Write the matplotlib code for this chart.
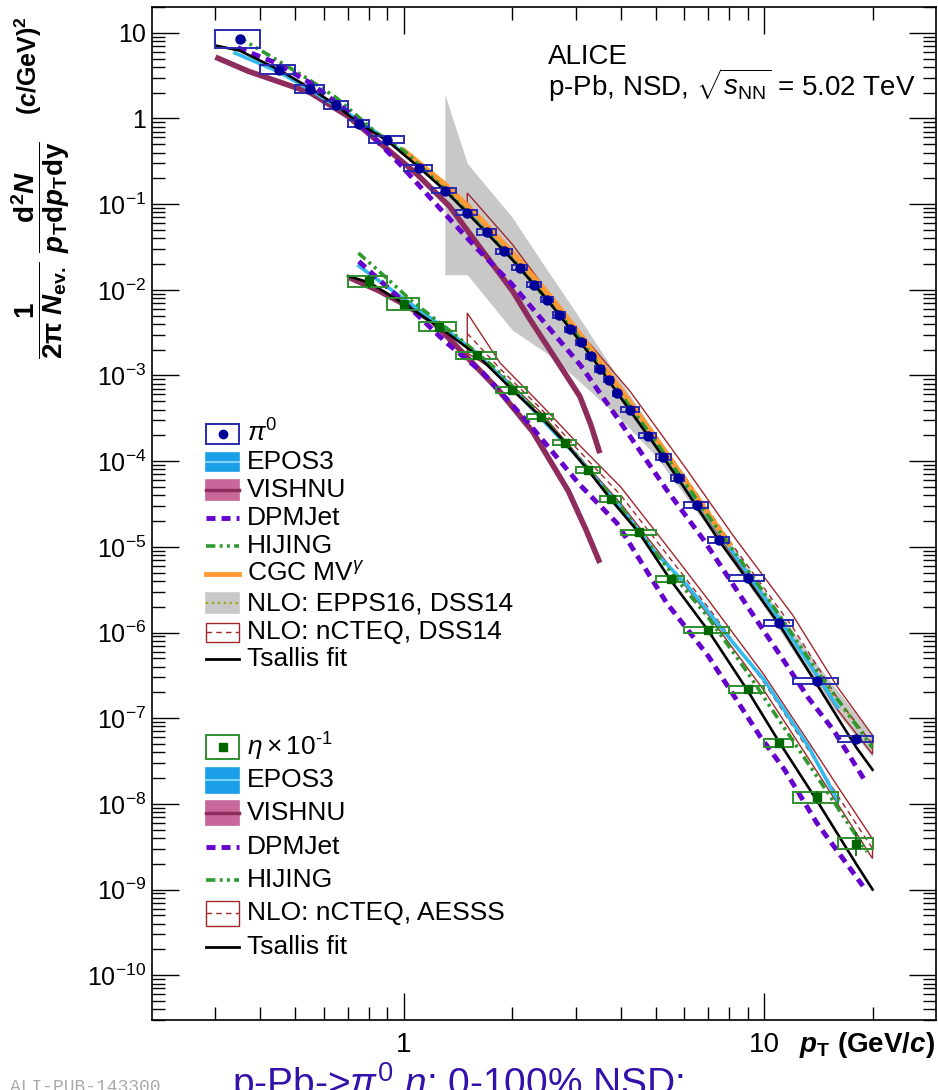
import matplotlib.pyplot as plt
import numpy as np
from matplotlib.patches import Rectangle
from matplotlib.lines import Line2D
from matplotlib.ticker import FixedLocator, FuncFormatter, NullFormatter

plt.rcParams['font.family'] = 'Liberation Sans'
plt.rcParams['mathtext.fontset'] = 'custom'
plt.rcParams['mathtext.rm'] = 'Liberation Sans'
plt.rcParams['mathtext.it'] = 'Liberation Sans:italic'
plt.rcParams['mathtext.bf'] = 'Liberation Sans:bold'
plt.rcParams['mathtext.bfit'] = 'Liberation Sans:bold:italic'

# ---- measured spectra (pi0 and eta x 0.1) ----
pi0_edges = [0.3, 0.4, 0.5, 0.6, 0.7, 0.8, 1.0, 1.2, 1.4, 1.6, 1.8, 2.0, 2.2, 2.4, 2.6, 2.8,
             3.0, 3.2, 3.4, 3.6, 3.8, 4.0, 4.5, 5.0, 5.5, 6.0, 7.0, 8.0, 10.0, 12.0, 16.0, 20.0]
pi0_y = [8.4, 3.70, 2.22, 1.44, 0.865, 0.567, 0.265, 0.144, 0.0789, 0.0473, 0.0281, 0.0180,
         0.01148, 0.00766, 0.00508, 0.00348, 0.00245, 0.00167, 0.00119, 0.000891, 0.000622,
         0.000398, 0.000199, 0.0001114, 6.33e-5, 3.08e-5, 1.19e-5, 4.30e-6, 1.30e-6, 2.74e-7, 5.70e-8]
pi0_sys = [0.27, 0.13, 0.12, 0.11, 0.10, 0.09, 0.08, 0.075, 0.07, 0.07, 0.07, 0.07, 0.07, 0.07,
           0.07, 0.07, 0.07, 0.07, 0.07, 0.07, 0.07, 0.075, 0.075, 0.075, 0.08, 0.08, 0.08, 0.08,
           0.08, 0.08, 0.09]
pi0_stat = [0.01] * 28 + [0.02, 0.03, 0.06]

eta_edges = [0.7, 0.9, 1.1, 1.4, 1.8, 2.2, 2.6, 3.0, 3.5, 4.0, 5.0, 6.0, 8.0, 10.0, 12.0, 16.0, 20.0]
eta_y = [0.01253, 0.00689, 0.00373, 0.00173, 0.000681, 0.000332, 0.000165, 7.9e-5, 3.63e-5,
         1.47e-5, 4.19e-6, 1.07e-6, 2.17e-7, 5.16e-8, 1.19e-8, 3.44e-9]
eta_sys = [0.15, 0.18, 0.13, 0.10, 0.09, 0.08, 0.08, 0.08, 0.08, 0.08, 0.09, 0.09, 0.10, 0.12,
           0.16, 0.17]
eta_stat = [0.2, 0.1, 0.03, 0.02, 0.02, 0.02, 0.02, 0.02, 0.02, 0.03, 0.03, 0.04, 0.06, 0.08,
            0.2, 0.38]

# ---- pi0 model curves ----
tsallis_pi0_x = [0.3, 0.35, 0.45, 0.55, 0.65, 0.75, 0.9, 1.1, 1.3, 1.5, 1.7, 2.0, 2.5, 3.0, 3.5,
                 4.0, 5.0, 6.0, 7.5, 9.0, 11, 14, 18, 20]
tsallis_pi0_y = [7.1, 6.2, 3.7, 2.25, 1.42, 0.88, 0.55, 0.27, 0.145, 0.079, 0.046, 0.0225, 0.0077,
                 0.0029, 0.00122, 0.00055, 0.000149, 4.9e-5, 1.18e-5, 4.1e-6, 1.25e-6, 2.5e-7,
                 4.6e-8, 2.5e-8]
epos_pi0_x = [0.34, 0.45, 0.55, 0.7, 0.9, 1.1, 1.5, 2.0, 3.0, 4.0, 5.0, 7.0, 10, 14, 16]
epos_pi0_y = [5.8, 3.5, 2.15, 1.15, 0.56, 0.28, 0.083, 0.024, 0.0031, 0.0006, 0.00017, 2.2e-5,
              2.6e-6, 3.2e-7, 1.35e-7]
vishnu_pi0_x = [0.3, 0.37, 0.55, 0.7, 1.08, 1.34, 1.62, 2.01, 2.24, 2.54, 3.08, 3.3, 3.5]
vishnu_pi0_y = [5.2, 3.56, 2.0, 1.06, 0.23, 0.094, 0.032, 0.0095, 0.0045, 0.002, 0.00057,
                0.00027, 0.000124]
dpmjet_pi0_x = [0.346, 0.44, 0.55, 0.7, 0.97, 1.22, 1.6, 2.0, 2.5, 3.1, 4.0, 5.37, 6.8, 9.0,
                11.3, 13.3, 15.6, 19]
dpmjet_pi0_y = [6.7, 4.47, 2.6, 1.2, 0.30, 0.103, 0.030, 0.0115, 0.0038, 0.0013, 0.00028,
                4.6e-5, 1.2e-5, 2.0e-6, 4.8e-7, 1.7e-7, 7.2e-8, 1.9e-8]
hijing_pi0_x = [0.346, 0.45, 0.545, 0.65, 0.84, 1.0, 1.3, 2.0, 3.0, 5.0, 7.0, 10, 14, 20]
hijing_pi0_y = [9.0, 4.66, 2.85, 1.74, 0.68, 0.42, 0.15, 0.023, 0.0031, 1.7e-4, 2.3e-5, 2.9e-6,
                3.6e-7, 4.5e-8]
cgc_x = [1.0, 1.3, 1.6, 2.0, 2.5, 3.0, 4.0, 5.0, 6.0, 7.0, 8.0]
cgc_y = [0.42, 0.17, 0.073, 0.027, 0.0092, 0.0035, 6.8e-4, 1.85e-4, 6.2e-5, 2.4e-5, 1.08e-5]
epps_x = [1.3, 1.5, 2.0, 2.5, 3.0, 4.0, 5.0, 7.0, 10, 14, 20]
epps_hi = [1.9, 0.30, 0.07, 0.017, 0.0055, 8.5e-4, 2.1e-4, 2.6e-5, 3.0e-6, 4.3e-7, 6.3e-8]
epps_lo = [0.015, 0.015, 0.0034, 0.0018, 9.3e-4, 3.1e-4, 1.15e-4, 1.7e-5, 2.0e-6, 2.3e-7, 3.5e-8]
epps_mid = [0.17, 0.085, 0.024, 0.0085, 0.0032, 6.2e-4, 1.65e-4, 2.2e-5, 2.6e-6, 3.3e-7, 5.0e-8]
ncteq_pi0_x = [1.5, 2.0, 2.77, 4.25, 6.0, 8.24, 12, 16, 20]
ncteq_pi0_hi = [0.135, 0.034, 0.0054, 6.5e-4, 8.8e-5, 1.32e-5, 1.6e-6, 2.3e-7, 6.3e-8]
ncteq_pi0_lo = [0.08, 0.022, 0.0048, 4.2e-4, 5.3e-5, 7.5e-6, 8.5e-7, 1.25e-7, 3.8e-8]
ncteq_pi0_mid = [0.104, 0.028, 0.0051, 5.2e-4, 6.8e-5, 1.0e-5, 1.15e-6, 1.7e-7, 4.9e-8]

# ---- eta model curves ----
tsallis_eta_x = [0.7, 0.8, 1.0, 1.25, 1.6, 2.0, 2.4, 2.8, 3.25, 3.75, 4.5, 5.5, 7, 9, 11, 14,
                 18, 20]
tsallis_eta_y = [0.0145, 0.0122, 0.0069, 0.0037, 0.00172, 0.00068, 0.00033, 0.000165, 7.8e-5,
                 3.6e-5, 1.45e-5, 4.1e-6, 1.05e-6, 2.1e-7, 5.3e-8, 1.1e-8, 2.0e-9, 1.0e-9]
epos_eta_x = [0.75, 1.0, 1.25, 1.6, 2.0, 3.0, 4.0, 5.0, 6.1, 8.2, 10, 13.3, 16]
epos_eta_y = [0.019, 0.0078, 0.0040, 0.0018, 0.00072, 0.000118, 2.9e-5, 8.5e-6, 3.6e-6, 7.6e-7,
              2.8e-7, 4.6e-8, 1.1e-8]
vishnu_eta_x = [0.7, 0.85, 1.0, 1.2, 1.46, 1.83, 2.28, 2.86, 3.2, 3.5]
vishnu_eta_y = [0.0141, 0.0098, 0.0068, 0.0043, 0.00183, 6.8e-4, 2.2e-4, 4.5e-5, 1.6e-5, 6.5e-6]
dpmjet_eta_x = [0.75, 1.0, 1.3, 1.66, 2.2, 3.08, 3.9, 5.37, 7.0, 9.78, 11.4, 14, 18.8]
dpmjet_eta_y = [0.0215, 0.0072, 0.0025, 0.00107, 2.9e-4, 5.3e-5, 1.9e-5, 2.2e-6, 5.3e-7, 6e-8,
                2.5e-8, 6e-9, 1.1e-9]
hijing_eta_x = [0.748, 0.9, 1.04, 1.4, 1.8, 2.4, 3.0, 4.0, 5.5, 7.0, 9.0, 11, 13.8, 19.3]
hijing_eta_y = [0.0269, 0.0135, 0.0077, 0.0029, 0.0012, 3.4e-4, 1.2e-4, 2.9e-5, 5.1e-6, 1.5e-6,
                3.4e-7, 9.5e-8, 2.3e-8, 2.75e-9]
ncteq_eta_x = [1.5, 1.85, 2.4, 3.0, 4.0, 5.5, 7.0, 10, 13.4, 16, 20]
ncteq_eta_hi = [0.00536, 1.4e-3, 4.6e-4, 1.7e-4, 5.0e-5, 9.0e-6, 2.4e-6, 3.2e-7, 5.0e-8, 1.6e-8,
                3.9e-9]
ncteq_eta_lo = [0.00183, 1.05e-3, 3.7e-4, 1.25e-4, 3.2e-5, 5.8e-6, 1.6e-6, 2.1e-7, 3.2e-8,
                1.0e-8, 2.3e-9]
ncteq_eta_mid = [0.0031, 1.2e-3, 4.1e-4, 1.45e-4, 4.0e-5, 7.2e-6, 1.95e-6, 2.6e-7, 4.0e-8,
                 1.25e-8, 3.0e-9]

# colours
c_pi0_box, c_pi0 = '#2b2bb0', '#000099'
c_eta_box, c_eta = '#2f8f2f', '#006600'
c_epos, c_epos_band, c_epos_mid = '#33bbee', '#1a9fe8', '#7fd3ff'
c_vish, c_vish_band = '#8e2c5e', '#c8679a'
c_dpm = '#6600cc'
c_hij = '#2e9a2e'
c_cgc = '#ff9933'
c_grey, c_olive = '#c8c8c8', '#a3a300'
c_brown = '#a0282d'
hij_dash = [2.6, 1.2, 0.8, 1.2, 0.8, 1.2]
dpm_dash = [1.85, 1.25]

W, H = 938, 1090
fig = plt.figure(figsize=(W / 100, H / 100), dpi=100)
ax = fig.add_axes([152 / W, 1 - 1020 / H, (936 - 152) / W, (1020 - 7) / H])
ax.set_xscale('log')
ax.set_yscale('log')

# NLO EPPS16 band
ax.fill_between(epps_x, epps_lo, epps_hi, color=c_grey, lw=0, zorder=1)
ax.plot(epps_x, epps_mid, color=c_olive, lw=1.6, ls=':', zorder=2)

# nCTEQ bands (outlined)
for bx, lo, hi, mid in [(ncteq_pi0_x, ncteq_pi0_lo, ncteq_pi0_hi, ncteq_pi0_mid),
                        (ncteq_eta_x, ncteq_eta_lo, ncteq_eta_hi, ncteq_eta_mid)]:
    ax.fill(list(bx) + list(bx[::-1]), list(lo) + list(hi[::-1]), facecolor='none',
            edgecolor=c_brown, lw=1.0, zorder=3)
    ax.plot(bx, mid, color=c_brown, lw=1.0, ls=(0, (4, 3)), zorder=3)

ax.plot(vishnu_pi0_x, vishnu_pi0_y, color=c_vish, lw=4, zorder=3, solid_capstyle='butt')
ax.plot(vishnu_eta_x, vishnu_eta_y, color=c_vish, lw=4, zorder=3, solid_capstyle='butt')
ax.plot(epos_pi0_x, epos_pi0_y, color=c_epos, lw=2.6, zorder=4)
ax.plot(epos_eta_x, epos_eta_y, color=c_epos, lw=2.6, zorder=4)
ax.plot(cgc_x, cgc_y, color=c_cgc, lw=4, zorder=4.5)
ax.plot(hijing_pi0_x, hijing_pi0_y, color=c_hij, lw=2.6, dashes=hij_dash, zorder=5)
ax.plot(hijing_eta_x, hijing_eta_y, color=c_hij, lw=2.6, dashes=hij_dash, zorder=5)
ax.plot(dpmjet_pi0_x, dpmjet_pi0_y, color=c_dpm, lw=3.5, dashes=dpm_dash, zorder=5)
ax.plot(dpmjet_eta_x, dpmjet_eta_y, color=c_dpm, lw=3.5, dashes=dpm_dash, zorder=5)
ax.plot(tsallis_pi0_x, tsallis_pi0_y, color='black', lw=1.9, zorder=6)
ax.plot(tsallis_eta_x, tsallis_eta_y, color='black', lw=1.9, zorder=6)

# data: systematic boxes + points
for edges, ys, sys, stat, cb, cm, mk, ms in [
        (pi0_edges, pi0_y, pi0_sys, pi0_stat, c_pi0_box, c_pi0, 'o', 6.5),
        (eta_edges, eta_y, eta_sys, eta_stat, c_eta_box, c_eta, 's', 6)]:
    e = np.array(edges)
    xc = 0.5 * (e[:-1] + e[1:])
    y = np.array(ys)
    s = np.array(sys)
    for x0, x1, yy, ss in zip(e[:-1], e[1:], y, s):
        ax.add_patch(Rectangle((x0, yy / (1 + ss)), x1 - x0, yy * (1 + ss) - yy / (1 + ss),
                               fill=False, edgecolor=cb, lw=1.4, zorder=7))
    st = np.array(stat)
    ax.errorbar(xc, y, yerr=[y - y / (1 + st), y * st], fmt=mk, color=cm, ms=ms,
                elinewidth=1.2, capsize=0, zorder=8)

ax.set_xlim(0.2, 30)
ax.set_ylim(3e-11, 20)

ax.xaxis.set_major_locator(FixedLocator([1, 10]))
ax.xaxis.set_minor_locator(FixedLocator([0.3, 0.4, 0.5, 0.6, 0.7, 0.8, 0.9,
                                         2, 3, 4, 5, 6, 7, 8, 9, 20]))
ax.xaxis.set_major_formatter(FuncFormatter(lambda v, p: '%g' % v))
ax.xaxis.set_minor_formatter(NullFormatter())
ax.yaxis.set_major_locator(FixedLocator([10.0 ** k for k in range(-10, 2)]))
ax.yaxis.set_minor_locator(FixedLocator([m * 10.0 ** k for k in range(-11, 2)
                                         for m in range(2, 10)]))


def ylabel_fmt(v, p):
    k = int(round(np.log10(v)))
    if k == 1:
        return '10'
    if k == 0:
        return '1'
    return r'$10^{%d}$' % k


ax.yaxis.set_major_formatter(FuncFormatter(ylabel_fmt))
ax.yaxis.set_minor_formatter(NullFormatter())
ax.tick_params(which='both', direction='in', top=True, right=True, width=1.0)
ax.tick_params(which='major', length=19.5)
ax.tick_params(which='minor', length=9.5)
ax.tick_params(axis='y', labelsize=18, pad=4)
ax.tick_params(axis='x', labelsize=20, pad=9)
for sp in ax.spines.values():
    sp.set_linewidth(1.2)

# overlay in pixel coordinates for legends and labels
lax = fig.add_axes([0, 0, 1, 1], zorder=10)
lax.set_xlim(0, W)
lax.set_ylim(H, 0)
lax.axis('off')

hx0, hx1, tx = 206, 239, 247
fs = 19


def leg_box(y, h, face, edge, lw=1.2):
    lax.add_patch(Rectangle((hx0, y - h / 2), hx1 - hx0, h, facecolor=face, edgecolor=edge, lw=lw))


def leg_line(y, **kw):
    lax.add_line(Line2D([hx0, hx1], [y, y], **kw))


def leg_text(y, s):
    lax.text(tx, y, s, fontsize=fs, va='center', ha='left')


# legend 1 (pi0)
leg_box(433.5, 20, 'white', c_pi0_box, 1.4)
lax.plot([222.5], [433.5], 'o', color=c_pi0, ms=6)
leg_text(433.5, r'$\pi^{0}$')
leg_box(462, 18, c_epos_band, c_epos_band)
leg_line(462, color=c_epos_mid, lw=1.5)
leg_text(462, 'EPOS3')
leg_box(490, 20, c_vish_band, c_vish_band)
leg_line(490, color=c_vish, lw=2.5)
leg_text(490, 'VISHNU')
leg_line(518, color=c_dpm, lw=3.5, dashes=dpm_dash)
leg_text(518, 'DPMJet')
leg_line(546, color=c_hij, lw=2.6, dashes=hij_dash)
leg_text(546, 'HIJING')
leg_line(574, color=c_cgc, lw=3.5)
leg_text(574, r'CGC MV$^{\gamma}$')
leg_box(603, 20, c_grey, c_grey)
leg_line(603, color=c_olive, lw=1.6, ls=':')
leg_text(603, 'NLO: EPPS16, DSS14')
leg_box(632, 19, 'white', c_brown, 1.0)
leg_line(632, color=c_brown, lw=1.0, ls=(0, (4, 3)))
leg_text(632, 'NLO: nCTEQ, DSS14')
leg_line(659, color='black', lw=2)
leg_text(659, 'Tsallis fit')

# legend 2 (eta)
leg_box(747, 24, 'white', c_eta_box, 1.4)
lax.plot([222.5], [747], 's', color=c_eta, ms=6)
leg_text(747, r'$\eta\times10^{\text{-}1}$')
leg_box(780, 25, c_epos_band, c_epos_band)
leg_line(780, color=c_epos_mid, lw=1.5)
leg_text(780, 'EPOS3')
leg_box(813, 24, c_vish_band, c_vish_band)
leg_line(813, color=c_vish, lw=2.5)
leg_text(813, 'VISHNU')
leg_line(846.5, color=c_dpm, lw=3.5, dashes=dpm_dash)
leg_text(846.5, 'DPMJet')
leg_line(880, color=c_hij, lw=2.6, dashes=hij_dash)
leg_text(880, 'HIJING')
leg_box(913, 25, 'white', c_brown, 1.0)
leg_line(913, color=c_brown, lw=1.0, ls=(0, (4, 3)))
leg_text(913, 'NLO: nCTEQ, AESSS')
leg_line(946.5, color='black', lw=2)
leg_text(946.5, 'Tsallis fit')

# system label
lax.text(548, 64, 'ALICE', fontsize=20, va='baseline')
lax.text(548, 96, r'p-Pb, NSD, $\sqrt{s_{\mathrm{NN}}}$ = 5.02 TeV', fontsize=20, va='baseline')

# axis titles
lax.text(935, 1052, r'$\mathbfit{p}_{\mathbf{T}}$ $\mathbf{(GeV/}\mathbfit{c}\mathbf{)}$',
         fontsize=20, ha='right', va='baseline')
lax.text(41, 250, r'$\mathbf{\dfrac{1}{2\pi\ \mathbfit{N}_{ev.}}\ \dfrac{d^{2}\mathbfit{N}}'
                  r'{\mathbfit{p}_{T}d\mathbfit{p}_{T}dy}}$',
         fontsize=20, rotation=90, ha='center', va='center')
lax.text(28, 66, r'$\mathbf{(}\mathbfit{c}\mathbf{/GeV)^{2}}$', fontsize=18, rotation=90,
         ha='center', va='center')

# footer
lax.text(10, 1092, 'ALI-PUB-143300', fontsize=13, color='#aaaaaa', family='Liberation Mono',
         va='baseline')
lax.text(232, 1096, r'p-Pb->$\pi^{0}$ $\eta$: 0-100% NSD:', fontsize=28, color='#3311aa',
         va='baseline')

fig.savefig('out.png', dpi=100)
